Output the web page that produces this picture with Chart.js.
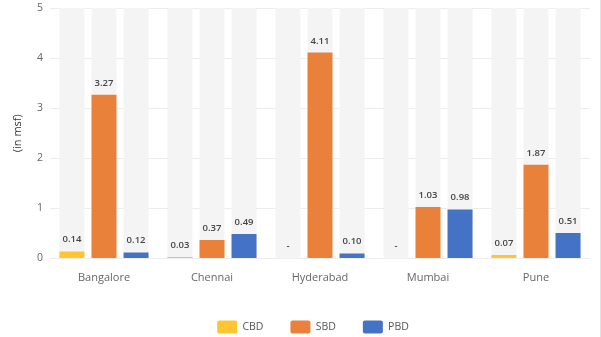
<!DOCTYPE html>
<html>
<head>
<meta charset="utf-8">
<script src="https://cdn.jsdelivr.net/npm/chart.js@4"></script>
<style>
  html, body { margin: 0; padding: 0; background: #fff; }
  #wrap { width: 600px; height: 337px; border-right: 1px solid #e2e2e2; }
</style>
</head>
<body>
<div id="wrap"><canvas id="chart" width="600" height="337"></canvas></div>
<script>
const cities = ["Bangalore", "Chennai", "Hyderabad", "Mumbai", "Pune"];
const cbd = [0.14, 0.03, null, null, 0.07];
const sbd = [3.27, 0.37, 4.11, 1.03, 1.87];
const pbd = [0.12, 0.49, 0.10, 0.98, 0.51];
const yTicks = [0, 1, 2, 3, 4, 5];

const FONT = "'Open Sans', sans-serif";

// light grey column behind every bar, full height of the plot
const trackPlugin = {
    id: "tracks",
    beforeDatasetsDraw(chart) {
        const { ctx, chartArea } = chart;
        ctx.save();
        ctx.fillStyle = "#f4f4f4";
        chart.data.datasets.forEach((ds, i) => {
            chart.getDatasetMeta(i).data.forEach(el => {
                ctx.fillRect(el.x - el.width / 2, chartArea.top, el.width, chartArea.bottom - chartArea.top);
            });
        });
        ctx.restore();
    }
};

// value labels above the bars, "-" where there is no value
const valuePlugin = {
    id: "values",
    afterDatasetsDraw(chart) {
        const { ctx } = chart;
        ctx.save();
        ctx.font = "600 9.5px " + FONT;
        ctx.fillStyle = "#444";
        ctx.textAlign = "center";
        ctx.textBaseline = "bottom";
        chart.data.datasets.forEach((ds, i) => {
            chart.getDatasetMeta(i).data.forEach((el, j) => {
                const v = ds.data[j];
                const txt = v === 0 && ds.missing[j] ? "-" : v.toFixed(2);
                ctx.fillText(txt, el.x, el.y - 7);
            });
        });
        ctx.restore();
    }
};

// legend sits a little right of the canvas centre
const legendShift = {
    id: "legendShift",
    afterLayout(chart) {
        if (chart.legend) {
            chart.legend.left += 18;
            chart.legend.right += 18;
        }
    }
};

const toBars = arr => arr.map(v => v === null ? 0 : v);
const missing = arr => arr.map(v => v === null);

new Chart(document.getElementById("chart"), {
    type: "bar",
    data: {
        labels: cities,
        datasets: [
            { label: "CBD", data: toBars(cbd), missing: missing(cbd), backgroundColor: "#fec532" },
            { label: "SBD", data: toBars(sbd), missing: missing(sbd), backgroundColor: "#e9813a" },
            { label: "PBD", data: toBars(pbd), missing: missing(pbd), backgroundColor: "#4472c4" }
        ]
    },
    options: {
        responsive: false,
        animation: false,
        categoryPercentage: 0.89,
        barPercentage: 0.78,
        layout: { padding: { top: 8, right: 10, left: 0, bottom: -6.5 } },
        plugins: {
            tooltip: { enabled: false },
            legend: {
                position: "bottom",
                labels: {
                    boxWidth: 20,
                    boxHeight: 13,
                    useBorderRadius: true,
                    borderRadius: 2,
                    padding: 27,
                    color: "#555",
                    font: { family: FONT, size: 10.5 }
                }
            }
        },
        scales: {
            x: {
                grid: { display: false },
                border: { display: false },
                ticks: { color: "#666", padding: 5, font: { family: FONT, size: 11 } },
                afterFit: s => { s.height = 35; s.paddingLeft = 0; s.paddingRight = 0; }
            },
            y: {
                min: 0,
                max: 5,
                afterBuildTicks: s => { s.ticks = yTicks.map(v => ({ value: v })); },
                grid: { color: "#ececec", drawTicks: false },
                border: { display: false },
                ticks: { color: "#666", padding: 7, font: { family: FONT, size: 10.5 } },
                title: {
                    display: true,
                    text: "(in msf)",
                    color: "#333",
                    padding: { top: 11, bottom: 0 },
                    font: { family: FONT, size: 11 }
                },
                afterFit: s => { s.width = 50; s.paddingTop = 0; s.paddingBottom = 0; }
            }
        }
    },
    plugins: [trackPlugin, valuePlugin, legendShift]
});
</script>
</body>
</html>
